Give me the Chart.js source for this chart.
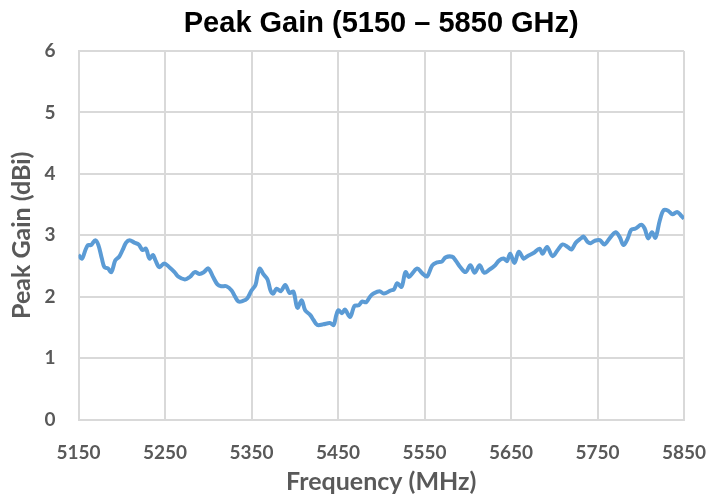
<!DOCTYPE html>
<html>
<head>
<meta charset="utf-8">
<script src="https://cdn.jsdelivr.net/npm/chart.js@4.4.1/dist/chart.umd.min.js"></script>
<style>
  html, body { margin: 0; padding: 0; background: #fff; }
  #wrap { width: 707px; height: 500px; }
</style>
</head>
<body>
<div id="wrap"><canvas id="gainChart" width="707" height="500"></canvas></div>
<script>
// Peak gain across the 5 GHz band
const freqMHz = [
  5150, 5154, 5158, 5161, 5164.5, 5169.5, 5173, 5177, 5180, 5184, 5188, 5192.5, 5197, 5201, 5205, 5209,
  5214.5, 5219.5, 5224, 5228, 5232, 5236, 5239, 5243.5, 5249, 5255, 5261, 5265, 5273, 5278.6, 5284.5, 5290,
  5295, 5300, 5305.6, 5310.6, 5315, 5321, 5327, 5331, 5335, 5340, 5345, 5350, 5354.6, 5357, 5359.6, 5363.5,
  5368.5, 5372, 5375, 5379, 5384, 5389, 5394, 5398.5, 5403, 5408, 5412, 5418, 5421.7, 5426, 5433, 5440.7,
  5445, 5448, 5450.6, 5454.5, 5458, 5464, 5469, 5474, 5477.7, 5482.6, 5487, 5491, 5498, 5503, 5510.8, 5514.7,
  5518.5, 5523.5, 5528, 5532, 5536, 5541.6, 5547.5, 5553, 5559, 5565, 5570, 5574.4, 5582, 5586, 5592, 5597.5,
  5603, 5608, 5613.7, 5619, 5625, 5630.7, 5636.5, 5641.5, 5645.4, 5649, 5654, 5659, 5664.6, 5669, 5676, 5683,
  5686.6, 5691.7, 5698, 5704, 5709.7, 5715.5, 5720, 5725, 5731, 5733.7, 5738.7, 5742, 5746.8, 5752.6, 5758, 5764,
  5771, 5775.7, 5780, 5785, 5789, 5794, 5800.6, 5804.5, 5808.5, 5813, 5817, 5822, 5826.6, 5831.7, 5836.6, 5842,
  5846, 5850,
];
const gainDBi = [
  2.68, 2.62, 2.76, 2.84, 2.84, 2.92, 2.84, 2.62, 2.48, 2.46, 2.40, 2.59, 2.65, 2.76, 2.88, 2.92,
  2.88, 2.85, 2.76, 2.78, 2.62, 2.68, 2.59, 2.48, 2.54, 2.48, 2.40, 2.33, 2.28, 2.32, 2.40, 2.37,
  2.40, 2.46, 2.32, 2.20, 2.17, 2.17, 2.10, 2.00, 1.92, 1.93, 1.97, 2.10, 2.19, 2.35, 2.46, 2.37,
  2.28, 2.10, 2.05, 2.13, 2.09, 2.19, 2.06, 2.08, 1.82, 1.94, 1.78, 1.70, 1.62, 1.54, 1.55, 1.57,
  1.54, 1.70, 1.78, 1.73, 1.79, 1.67, 1.85, 1.86, 1.92, 1.91, 2.00, 2.05, 2.09, 2.05, 2.10, 2.12,
  2.22, 2.16, 2.40, 2.32, 2.38, 2.46, 2.38, 2.33, 2.51, 2.56, 2.57, 2.64, 2.65, 2.59, 2.47, 2.40,
  2.51, 2.39, 2.51, 2.39, 2.44, 2.50, 2.59, 2.62, 2.58, 2.70, 2.55, 2.73, 2.62, 2.66, 2.71, 2.78,
  2.70, 2.81, 2.66, 2.76, 2.85, 2.81, 2.77, 2.88, 2.95, 2.98, 2.89, 2.87, 2.91, 2.92, 2.85, 2.95,
  3.05, 2.97, 2.84, 2.95, 3.09, 3.11, 3.17, 3.11, 2.95, 3.05, 2.96, 3.24, 3.41, 3.40, 3.34, 3.38,
  3.33, 3.27,
];
const xTicks = [5150, 5250, 5350, 5450, 5550, 5650, 5750, 5850];
const yTicks = [0, 1, 2, 3, 4, 5, 6];

const GRID = '#d9d9d9';
const TEXT = '#595959';
const LABEL_FONT = 'Lato';

new Chart(document.getElementById('gainChart'), {
  type: 'line',
  data: {
    datasets: [{
      label: 'Peak Gain',
      data: freqMHz.map((f, i) => ({ x: f, y: gainDBi[i] })),
      borderColor: '#5b9bd5',
      borderWidth: 4,
      pointRadius: 0,
      tension: 0.35,
      fill: false,
    }],
  },
  options: {
    responsive: false,
    animation: false,
    layout: { padding: { left: 0, right: 23, top: 0, bottom: 0 } },
    plugins: {
      legend: { display: false },
      tooltip: { enabled: false },
      title: {
        display: true,
        fullSize: false,
        text: 'Peak Gain (5150 \u2013 5850 GHz)',
        color: '#000',
        font: { family: 'Liberation Sans', size: 29, weight: 'bold', lineHeight: 1.2 },
        padding: { top: 7, bottom: 9.2 },
      },
    },
    scales: {
      x: {
        type: 'linear',
        min: xTicks[0],
        max: xTicks[xTicks.length - 1],
        afterBuildTicks: (s) => { s.ticks = xTicks.map((v) => ({ value: v })); },
        afterFit: (s) => { s.height = 80.5; s.paddingLeft = 0; s.paddingRight = 0; },
        grid: { color: GRID, lineWidth: 2, drawTicks: false },
        border: { color: GRID, width: 2 },
        ticks: {
          color: TEXT,
          padding: 22,
          maxRotation: 0,
          font: { family: LABEL_FONT, size: 19, weight: 'bold' },
          callback: (v) => String(v),
        },
        title: {
          display: true,
          text: 'Frequency (MHz)',
          color: TEXT,
          font: { family: LABEL_FONT, size: 25, weight: 'bold', lineHeight: 1.2 },
          padding: { top: 0, bottom: 3 },
        },
      },
      y: {
        min: yTicks[0],
        max: yTicks[yTicks.length - 1],
        afterBuildTicks: (s) => { s.ticks = yTicks.map((v) => ({ value: v })); },
        afterFit: (s) => { s.width = 78.5; s.paddingTop = 0; s.paddingBottom = 0; },
        grid: { color: GRID, lineWidth: 2, drawTicks: false },
        border: { color: GRID, width: 2 },
        ticks: {
          color: TEXT,
          padding: 23,
          font: { family: LABEL_FONT, size: 19, weight: 'bold' },
        },
        title: {
          display: true,
          text: 'Peak Gain (dBi)',
          color: TEXT,
          font: { family: LABEL_FONT, size: 25, weight: 'bold', lineHeight: 1.2 },
          padding: { top: 7, bottom: 0 },
        },
      },
    },
  },
});
</script>
</body>
</html>
